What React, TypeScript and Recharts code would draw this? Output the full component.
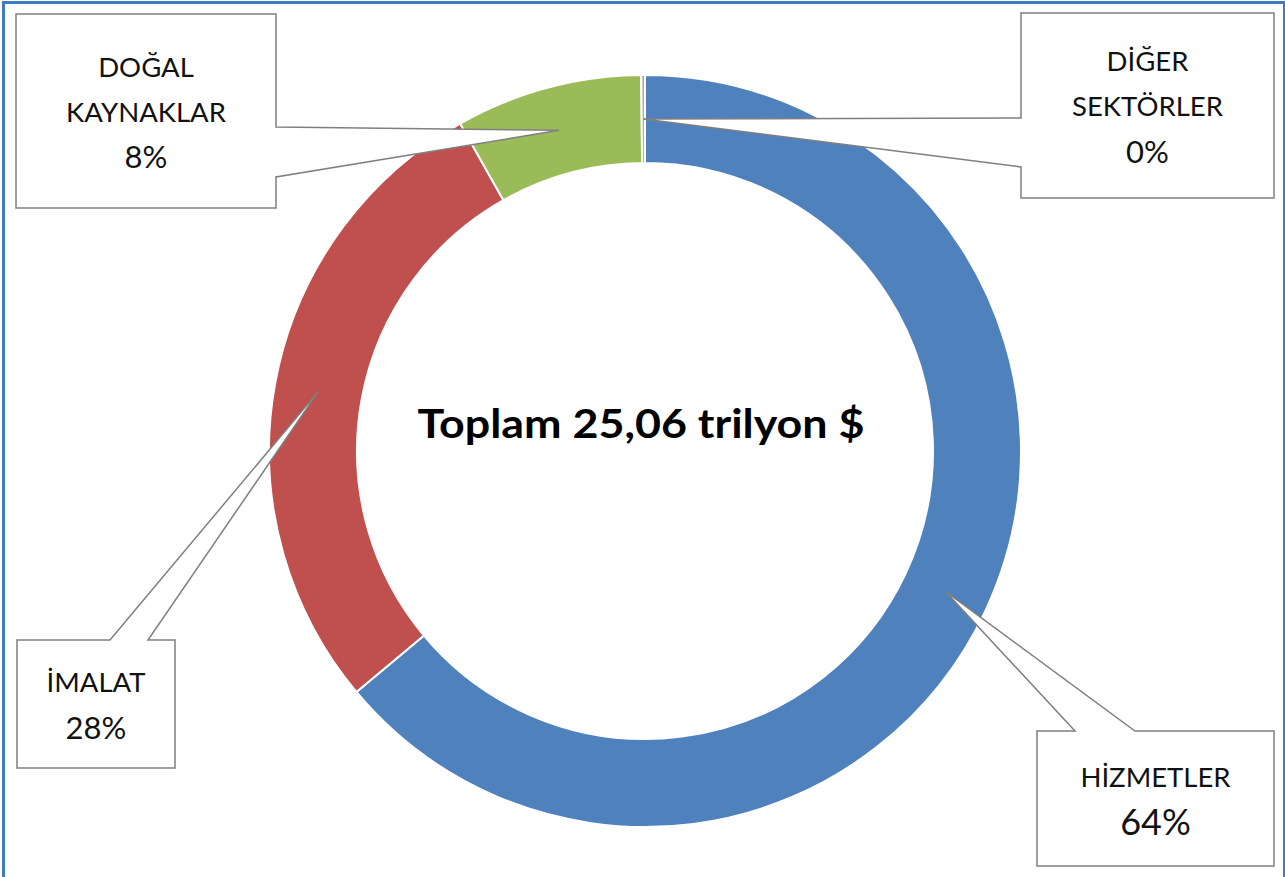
import { Pie, PieChart, Cell } from "recharts";

const sectors = ["HİZMETLER", "İMALAT", "DOĞAL\nKAYNAKLAR", "DİĞER\nSEKTÖRLER"];
const valuesTrillion = [16.02, 6.99, 2.01, 0.04];
const colors = ["#4F81BD", "#C0504D", "#9BBB59", "#B3A2C7"];
const centerTitle = "Toplam 25,06 trilyon $";

const chartData = sectors.map((name, i) => ({ name, value: valuesTrillion[i] }));

// callout box geometry, one per sector (same order as sectors)
type Callout = { x: number; y: number; w: number; h: number; side: "top" | "left" | "right"; a: number; b: number; big?: boolean };
const callouts: Callout[] = [
  { x: 1037, y: 731, w: 237, h: 135, side: "top", a: 1075, b: 1135, big: true },
  { x: 17, y: 640, w: 158, h: 128, side: "top", a: 110, b: 148 },
  { x: 16, y: 14, w: 260, h: 194, side: "right", a: 127, b: 177 },
  { x: 1021, y: 13, w: 253, h: 185, side: "left", a: 118, b: 167 },
];

const RAD = Math.PI / 180;

function renderCallout(props: any) {
  const { cx, cy, midAngle, innerRadius, outerRadius, percent, index, name } = props;
  const box = callouts[index];
  if (!box) return null;
  const r = (innerRadius + outerRadius) / 2;
  const tx = cx + r * Math.cos(-midAngle * RAD);
  const ty = cy + r * Math.sin(-midAngle * RAD);
  const { x, y, w, h, side, a, b } = box;
  let d = "";
  if (side === "top") {
    d = `M${x},${y} H${a} L${tx},${ty} L${b},${y} H${x + w} V${y + h} H${x} Z`;
  } else if (side === "right") {
    d = `M${x},${y} H${x + w} V${a} L${tx},${ty} L${x + w},${b} V${y + h} H${x} Z`;
  } else {
    d = `M${x},${y} H${x + w} V${y + h} H${x} V${b} L${tx},${ty} L${x},${a} Z`;
  }
  const lines: string[] = String(name).split("\n");
  const pct = `${Math.round(percent * 100)}%`;
  const lineGap = 45;
  const all = [...lines, pct];
  const midX = x + w / 2;
  const startY = y + h / 2 - ((all.length - 1) * lineGap) / 2;
  return (
    <g key={`callout-${index}`}>
      <path d={d} fill="#fff" stroke="#7f7f7f" strokeWidth={1.5} />
      {all.map((t, i) => {
        const isPct = i === all.length - 1;
        return (
          <text
            key={i}
            x={midX}
            y={startY + i * lineGap}
            textAnchor="middle"
            dominantBaseline="central"
            fontFamily="Lato, 'Open Sans', sans-serif"
            fontSize={isPct ? (box.big ? 36 : 31) : 27.5}
            fill="#111"
          >
            {t}
          </text>
        );
      })}
    </g>
  );
}

export default function App() {
  return (
    <div style={{ position: "absolute", left: 0, top: 0, width: 1285, height: 877, background: "#fff", overflow: "hidden" }}>
      <div
        style={{
          position: "absolute",
          left: 2,
          top: 1,
          width: 1278,
          height: 890,
          borderTop: "3px solid #3D7CC4",
          borderLeft: "3px solid #3D7CC4",
          borderRight: "3px solid #3D7CC4",
        }}
      />
      <PieChart width={1285} height={877} style={{ position: "absolute", left: 0, top: 0 }}>
        <Pie
          data={chartData}
          dataKey="value"
          nameKey="name"
          cx={640}
          cy={446}
          innerRadius={288}
          outerRadius={376}
          startAngle={90}
          endAngle={-270}
          stroke="#fff"
          strokeWidth={2}
          label={renderCallout}
          labelLine={false}
          isAnimationActive={false}
        >
          {chartData.map((d, i) => (
            <Cell key={d.name} fill={colors[i]} />
          ))}
        </Pie>
        <text
          x={641}
          y={423}
          textAnchor="middle"
          dominantBaseline="central"
          fontFamily="Lato, 'Open Sans', sans-serif"
          fontWeight={700}
          fontSize={40}
          textLength={447}
          lengthAdjust="spacingAndGlyphs"
          fill="#000"
        >
          {centerTitle}
        </text>
      </PieChart>
    </div>
  );
}
